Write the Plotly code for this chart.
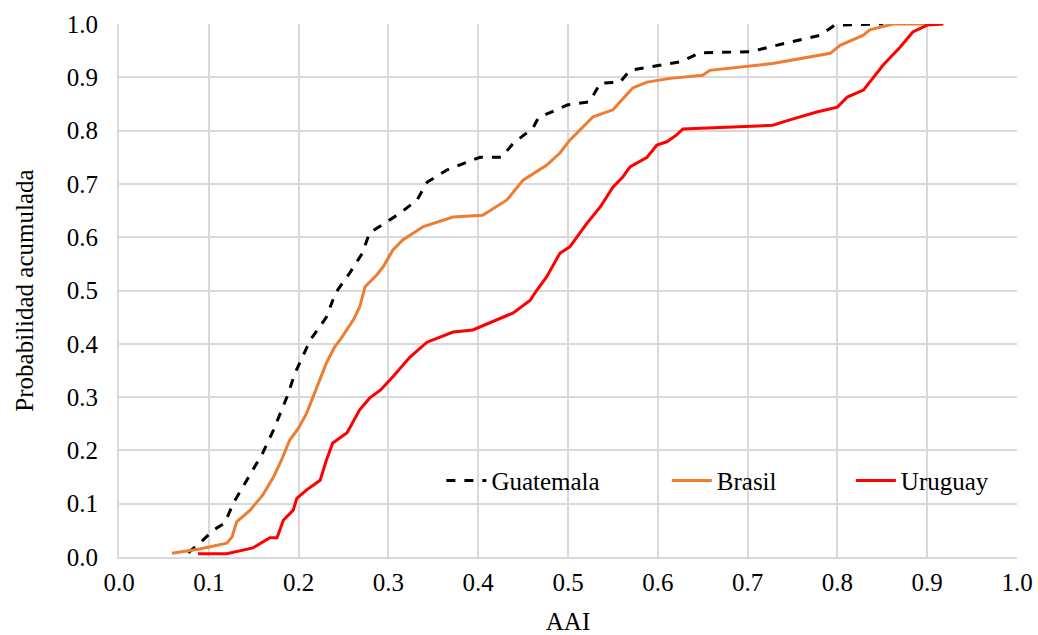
import plotly.graph_objects as go

# Empirical cumulative distribution of the AAI index by country
guatemala_x = [0.077, 0.09, 0.105, 0.118, 0.127, 0.142, 0.16, 0.172, 0.181, 0.187, 0.196,
               0.213, 0.231, 0.241, 0.257, 0.271, 0.279, 0.291, 0.313, 0.332, 0.343, 0.365,
               0.402, 0.426, 0.439, 0.461, 0.467, 0.499, 0.524, 0.536, 0.558, 0.569, 0.591,
               0.625, 0.647, 0.703, 0.747, 0.781, 0.797, 0.851]
guatemala_y = [0.008, 0.026, 0.05, 0.064, 0.1, 0.144, 0.195, 0.238, 0.276, 0.3, 0.345,
               0.407, 0.45, 0.495, 0.533, 0.57, 0.608, 0.621, 0.645, 0.67, 0.703, 0.726,
               0.75, 0.75, 0.776, 0.805, 0.824, 0.848, 0.854, 0.889, 0.891, 0.913, 0.919,
               0.929, 0.946, 0.948, 0.966, 0.979, 0.998, 1.0]

brasil_x = [0.059, 0.09, 0.12, 0.126, 0.131, 0.146, 0.16, 0.172, 0.181, 0.19, 0.2, 0.209,
            0.216, 0.224, 0.231, 0.24, 0.246, 0.261, 0.268, 0.274, 0.287, 0.294, 0.305,
            0.316, 0.339, 0.372, 0.405, 0.432, 0.45, 0.476, 0.491, 0.502, 0.528, 0.55,
            0.572, 0.588, 0.614, 0.65, 0.658, 0.728, 0.792, 0.803, 0.829, 0.836, 0.862, 0.9]
brasil_y = [0.007, 0.015, 0.026, 0.038, 0.066, 0.088, 0.116, 0.15, 0.182, 0.219, 0.242, 0.27,
            0.3, 0.335, 0.364, 0.394, 0.407, 0.445, 0.469, 0.507, 0.529, 0.544, 0.576,
            0.595, 0.62, 0.638, 0.641, 0.67, 0.707, 0.735, 0.758, 0.782, 0.826, 0.839,
            0.88, 0.891, 0.898, 0.904, 0.913, 0.926, 0.945, 0.96, 0.979, 0.989, 1.0, 1.0]

uruguay_x = [0.088, 0.12, 0.149, 0.168, 0.176, 0.183, 0.194, 0.198, 0.209, 0.224, 0.231,
             0.238, 0.254, 0.268, 0.279, 0.291, 0.305, 0.324, 0.343, 0.372, 0.394, 0.421,
             0.439, 0.458, 0.465, 0.476, 0.491, 0.502, 0.521, 0.536, 0.55, 0.561, 0.569,
             0.588, 0.599, 0.61, 0.621, 0.628, 0.728, 0.747, 0.777, 0.8, 0.811, 0.829,
             0.851, 0.87, 0.884, 0.9, 0.918]
uruguay_y = [0.006, 0.006, 0.017, 0.036, 0.036, 0.069, 0.088, 0.11, 0.126, 0.144, 0.182,
             0.214, 0.233, 0.276, 0.298, 0.313, 0.338, 0.375, 0.403, 0.422, 0.426, 0.445,
             0.458, 0.482, 0.5, 0.525, 0.57, 0.582, 0.626, 0.657, 0.694, 0.713, 0.732,
             0.75, 0.773, 0.779, 0.792, 0.803, 0.81, 0.82, 0.835, 0.844, 0.863, 0.876,
             0.923, 0.957, 0.985, 0.998, 1.0]

tick_vals = [i / 10 for i in range(11)]
tick_text = [f"{v:.1f}" for v in tick_vals]

FONT = "Times New Roman, Liberation Serif, DejaVu Serif, serif"
FONT_SIZE = 25

fig = go.Figure()
fig.add_trace(go.Scatter(x=guatemala_x, y=guatemala_y, mode="lines", name="Guatemala",
                         legend="legend",
                         line=dict(color="#000000", width=3, dash="dash")))
fig.add_trace(go.Scatter(x=brasil_x, y=brasil_y, mode="lines", name="Brasil",
                         legend="legend2",
                         line=dict(color="#ED7D31", width=3)))
fig.add_trace(go.Scatter(x=uruguay_x, y=uruguay_y, mode="lines", name="Uruguay",
                         legend="legend3",
                         line=dict(color="#FF0000", width=3)))

axis_common = dict(
    range=[0, 1], tickvals=tick_vals, ticktext=tick_text,
    showgrid=True, gridcolor="#D9D9D9", gridwidth=2,
    showline=True, linecolor="#D9D9D9", linewidth=2,
    zeroline=False, ticks="",
    tickfont=dict(family=FONT, size=FONT_SIZE, color="#000000"),
)


def legend_box(x):
    # one single-entry legend per series, laid out in a row inside the plot
    return dict(orientation="h", x=x, y=0.143, xanchor="left", yanchor="middle",
                bgcolor="rgba(255,255,255,0)", font=dict(family=FONT, size=FONT_SIZE),
                itemwidth=40)


fig.update_layout(
    width=1038, height=635,
    margin=dict(l=119, r=21, t=24, b=78, autoexpand=False),
    paper_bgcolor="white", plot_bgcolor="white",
    font=dict(family=FONT, size=FONT_SIZE, color="#000000"),
    xaxis=dict(**axis_common, ticklabelstandoff=2,
               title=dict(text="AAI", font=dict(family=FONT, size=FONT_SIZE), standoff=18)),
    yaxis=dict(**axis_common, ticklabelstandoff=14,
               title=dict(text="Probabilidad acumulada", font=dict(family=FONT, size=FONT_SIZE), standoff=26)),
    showlegend=True,
    legend=legend_box(0.359),
    legend2=legend_box(0.610),
    legend3=legend_box(0.815),
)

fig.write_html("out.html")
